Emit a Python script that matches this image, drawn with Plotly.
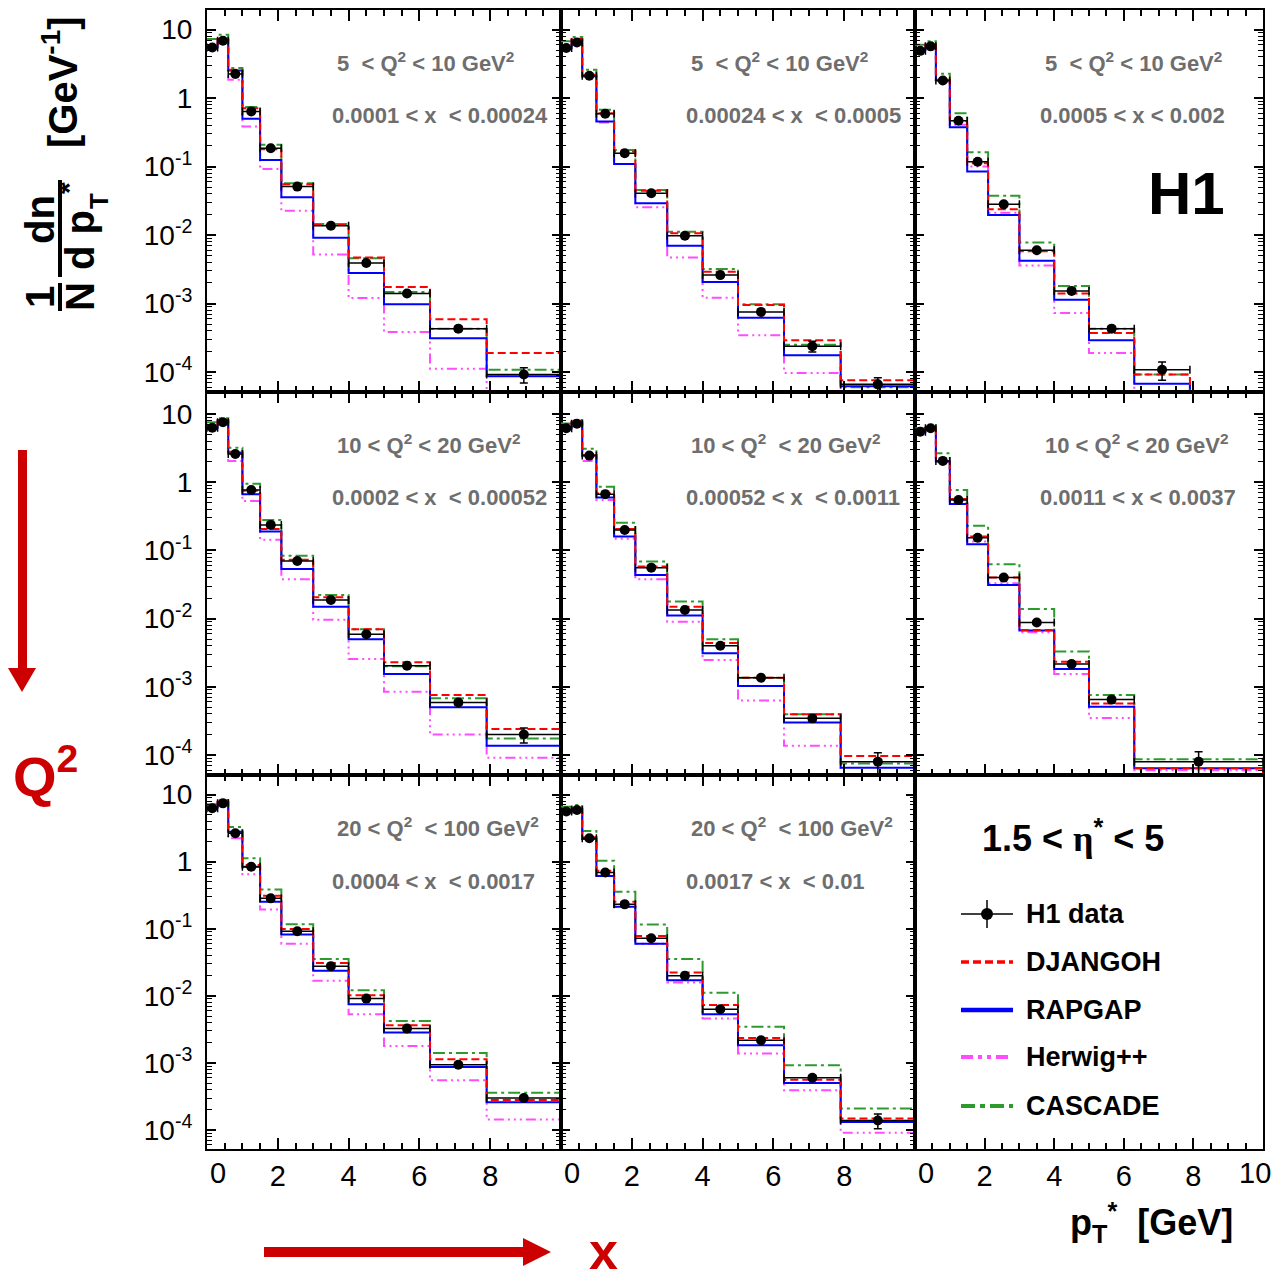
import plotly.graph_objects as go

W, H = 1284, 1283

# ---------------------------------------------------------------- binning
# p_T* bin edges [GeV]
edges_full = [0.0, 0.3, 0.6, 1.0, 1.5, 2.1, 3.0, 4.0, 5.0, 6.3, 7.9, 10.0]
edges_short = [0.0, 0.3, 0.6, 1.0, 1.5, 2.1, 3.0, 4.0, 5.0, 6.3, 7.9]
edges_merged = [0.0, 0.3, 0.6, 1.0, 1.5, 2.1, 3.0, 4.0, 5.0, 6.3, 10.0]

# ---------------------------------------------------------------- bin labels
q2_labels = [
    "5\u00a0\u00a0&lt; Q<sup>2</sup> &lt; 10 GeV<sup>2</sup>",
    "5\u00a0\u00a0&lt; Q<sup>2</sup> &lt; 10 GeV<sup>2</sup>",
    "5\u00a0\u00a0&lt; Q<sup>2</sup> &lt; 10 GeV<sup>2</sup>",
    "10 &lt; Q<sup>2</sup> &lt; 20 GeV<sup>2</sup>",
    "10 &lt; Q<sup>2</sup>\u00a0\u00a0&lt; 20 GeV<sup>2</sup>",
    "10 &lt; Q<sup>2</sup> &lt; 20 GeV<sup>2</sup>",
    "20 &lt; Q<sup>2</sup>\u00a0\u00a0&lt; 100 GeV<sup>2</sup>",
    "20 &lt; Q<sup>2</sup>\u00a0\u00a0&lt; 100 GeV<sup>2</sup>",
]
x_labels = [
    "0.0001 &lt; x\u00a0\u00a0&lt; 0.00024",
    "0.00024 &lt; x\u00a0\u00a0&lt; 0.0005",
    "0.0005 &lt; x &lt; 0.002",
    "0.0002 &lt; x\u00a0\u00a0&lt; 0.00052",
    "0.00052 &lt; x\u00a0\u00a0&lt; 0.0011",
    "0.0011 &lt; x &lt; 0.0037",
    "0.0004 &lt; x\u00a0\u00a0&lt; 0.0017",
    "0.0017 &lt; x\u00a0\u00a0&lt; 0.01",
]

# ---------------------------------------------------------------- 1/N dn/dpT* values
# bin 1: 5<Q2<10, 0.0001<x<0.00024
data_1 = [5.5, 6.9, 2.25, 0.64, 0.185, 0.051, 0.0137, 0.0039, 0.0014, 4.3e-4, 9.2e-5]
err_1 = [0.03, 0.03, 0.03, 0.03, 0.03, 0.04, 0.04, 0.05, 0.06, 0.08, 0.25]
djangoh_1 = [5.7, 7.3, 2.6, 0.71, 0.179, 0.055, 0.014, 0.0047, 0.00175, 5.9e-4, 1.9e-4]
rapgap_1 = [5.5, 7.1, 2.54, 0.50, 0.125, 0.0356, 0.0091, 0.0028, 9.8e-4, 3.1e-4, 8.7e-5]
herwig_1 = [5.4, 7.0, 1.85, 0.385, 0.092, 0.0227, 0.0052, 0.0012, 3.85e-4, 1.12e-4, 3e-5]
cascade_1 = [7.3, 8.45, 2.75, 0.74, 0.208, 0.057, 0.0145, 0.0046, 0.00148, 4.3e-4, 1.08e-4]

# bin 2: 5<Q2<10, 0.00024<x<0.0005
data_2 = [5.4, 6.5, 2.12, 0.59, 0.157, 0.0407, 0.0098, 0.0026, 7.55e-4, 2.38e-4, 6.6e-5]
err_2 = [0.03, 0.03, 0.03, 0.03, 0.03, 0.04, 0.04, 0.05, 0.07, 0.18, 0.25]
djangoh_2 = [5.5, 7.3, 2.19, 0.60, 0.166, 0.0445, 0.0106, 0.0029, 9.5e-4, 2.9e-4, 7.55e-5]
rapgap_2 = [5.4, 7.1, 2.12, 0.456, 0.109, 0.0291, 0.0070, 0.00207, 6.2e-4, 1.75e-4, 6.2e-5]
herwig_2 = [5.4, 7.0, 2.03, 0.44, 0.109, 0.0254, 0.0047, 0.00121, 3.44e-4, 9.7e-5, 3e-5]
cascade_2 = [6.75, 7.8, 2.6, 0.675, 0.175, 0.0456, 0.0112, 0.0032, 9.8e-4, 2.5e-4, 6.0e-5]

# bin 3: 5<Q2<10, 0.0005<x<0.002
data_3 = [4.9, 5.7, 1.81, 0.466, 0.118, 0.0281, 0.0060, 0.00153, 4.3e-4, 1.08e-4]
err_3 = [0.03, 0.03, 0.03, 0.03, 0.03, 0.04, 0.04, 0.05, 0.08, 0.3]
djangoh_3 = [5.1, 6.0, 1.85, 0.456, 0.112, 0.0238, 0.0058, 0.0014, 3.7e-4, 9.2e-5]
rapgap_3 = [5.1, 5.8, 1.81, 0.376, 0.0845, 0.0196, 0.0042, 0.00114, 2.9e-4, 6.75e-5]
herwig_3 = [5.1, 5.8, 1.75, 0.407, 0.100, 0.0212, 0.0036, 7.3e-4, 1.9e-4, 3e-5]
cascade_3 = [6.0, 6.75, 2.27, 0.60, 0.162, 0.0376, 0.0078, 0.00181, 4.3e-4, 9.2e-5]

# bin 4: 10<Q2<20, 0.0002<x<0.00052
data_4 = [6.3, 7.6, 2.6, 0.77, 0.237, 0.070, 0.0188, 0.0059, 0.00204, 5.9e-4, 2.0e-4]
err_4 = [0.03, 0.03, 0.03, 0.03, 0.03, 0.04, 0.04, 0.05, 0.06, 0.08, 0.25]
djangoh_4 = [6.6, 8.2, 2.8, 0.75, 0.207, 0.073, 0.0206, 0.0070, 0.0023, 7.6e-4, 2.4e-4]
rapgap_4 = [6.3, 7.9, 2.7, 0.67, 0.189, 0.0535, 0.0150, 0.0050, 0.00154, 5.0e-4, 1.37e-4]
herwig_4 = [6.2, 7.6, 2.06, 0.53, 0.143, 0.0378, 0.0096, 0.00256, 8.5e-4, 2.0e-4, 9.1e-5]
cascade_4 = [7.6, 8.7, 3.2, 0.95, 0.28, 0.084, 0.0222, 0.0070, 0.0020, 6.8e-4, 1.75e-4]

# bin 5: 10<Q2<20, 0.00052<x<0.0011
data_5 = [6.2, 7.2, 2.46, 0.67, 0.200, 0.056, 0.0134, 0.0040, 0.00136, 3.45e-4, 8.0e-5]
err_5 = [0.03, 0.03, 0.03, 0.03, 0.03, 0.04, 0.04, 0.05, 0.06, 0.1, 0.35]
djangoh_5 = [6.3, 7.8, 2.5, 0.69, 0.207, 0.058, 0.0150, 0.0044, 0.00136, 3.95e-4, 9.7e-5]
rapgap_5 = [6.2, 7.6, 2.46, 0.60, 0.160, 0.0437, 0.0111, 0.0031, 0.00103, 3.0e-4, 6.5e-5]
herwig_5 = [6.2, 7.3, 2.06, 0.55, 0.148, 0.0378, 0.0090, 0.00248, 6.3e-4, 1.37e-4, 3e-5]
cascade_5 = [7.3, 8.2, 3.1, 0.86, 0.256, 0.069, 0.0178, 0.0050, 0.00136, 3.95e-4, 7.5e-5]

# bin 6: 10<Q2<20, 0.0011<x<0.0037
data_6 = [5.5, 6.2, 2.06, 0.55, 0.154, 0.040, 0.0088, 0.00216, 6.5e-4, 8.0e-5]
err_6 = [0.03, 0.03, 0.03, 0.03, 0.03, 0.04, 0.05, 0.06, 0.07, 0.4]
djangoh_6 = [5.5, 6.3, 2.06, 0.57, 0.160, 0.040, 0.0068, 0.00234, 5.7e-4, 6.4e-5]
rapgap_6 = [5.5, 6.2, 2.01, 0.48, 0.123, 0.0312, 0.0067, 0.00183, 5.1e-4, 6.4e-5]
herwig_6 = [5.5, 6.2, 2.01, 0.51, 0.135, 0.0330, 0.0063, 0.00154, 3.5e-4, 6.0e-5]
cascade_6 = [6.2, 6.8, 2.66, 0.77, 0.231, 0.063, 0.0139, 0.0033, 7.6e-4, 8.7e-5]

# bin 7: 20<Q2<100, 0.0004<x<0.0017
data_7 = [6.25, 7.4, 2.65, 0.84, 0.284, 0.092, 0.0277, 0.0091, 0.00325, 9.4e-4, 3.0e-4]
err_7 = [0.03, 0.03, 0.03, 0.03, 0.03, 0.04, 0.04, 0.05, 0.05, 0.06, 0.08]
djangoh_7 = [6.5, 7.9, 2.8, 0.89, 0.311, 0.099, 0.031, 0.0102, 0.00365, 0.00113, 2.8e-4]
rapgap_7 = [6.4, 7.7, 2.8, 0.84, 0.253, 0.082, 0.0236, 0.0075, 0.00284, 8.7e-4, 2.6e-4]
herwig_7 = [6.25, 7.4, 2.23, 0.65, 0.194, 0.060, 0.0168, 0.0053, 0.00179, 5.5e-4, 1.43e-4]
cascade_7 = [7.2, 8.3, 3.3, 1.12, 0.386, 0.117, 0.0353, 0.0121, 0.0042, 0.00141, 3.6e-4]

# bin 8: 20<Q2<100, 0.0017<x<0.01
data_8 = [5.6, 5.9, 2.23, 0.69, 0.231, 0.072, 0.0199, 0.0063, 0.00218, 6.0e-4, 1.39e-4]
err_8 = [0.03, 0.03, 0.03, 0.03, 0.03, 0.04, 0.04, 0.05, 0.05, 0.07, 0.25]
djangoh_8 = [5.6, 6.25, 2.31, 0.73, 0.253, 0.078, 0.0223, 0.0073, 0.00236, 5.6e-4, 1.48e-4]
rapgap_8 = [5.6, 6.1, 2.18, 0.61, 0.213, 0.060, 0.0171, 0.0053, 0.00184, 5.0e-4, 1.32e-4]
herwig_8 = [5.6, 6.1, 2.18, 0.63, 0.213, 0.060, 0.0158, 0.0046, 0.00138, 3.9e-4, 9.1e-5]
cascade_8 = [6.6, 7.0, 2.87, 1.03, 0.356, 0.116, 0.0353, 0.0111, 0.00345, 9.2e-4, 2.1e-4]

panels = [
    (edges_full, data_1, err_1, djangoh_1, rapgap_1, herwig_1, cascade_1),
    (edges_full, data_2, err_2, djangoh_2, rapgap_2, herwig_2, cascade_2),
    (edges_short, data_3, err_3, djangoh_3, rapgap_3, herwig_3, cascade_3),
    (edges_full, data_4, err_4, djangoh_4, rapgap_4, herwig_4, cascade_4),
    (edges_full, data_5, err_5, djangoh_5, rapgap_5, herwig_5, cascade_5),
    (edges_merged, data_6, err_6, djangoh_6, rapgap_6, herwig_6, cascade_6),
    (edges_full, data_7, err_7, djangoh_7, rapgap_7, herwig_7, cascade_7),
    (edges_full, data_8, err_8, djangoh_8, rapgap_8, herwig_8, cascade_8),
]

# ---------------------------------------------------------------- styles
FONT = "Liberation Sans, Arial, Helvetica, sans-serif"
RED, BLUE, MAGENTA, GREEN = "#ff0000", "#0000ff", "#ff4cff", "#2e9a2e"
models = [  # (name, column in panel tuple, colour, dash, width)
    ("Herwig++", 5, MAGENTA, "10px,4px,2px,4px,2px,4px,2px,4px", 2),
    ("CASCADE", 6, GREEN, "12px,4px,3px,4px", 2),
    ("RAPGAP", 4, BLUE, "solid", 2),
    ("DJANGOH", 3, RED, "8px,4px", 2),
]
FLOOR = 1e-7  # histogram outline drops to zero after its last bin

# panel frames in page pixels
col_px = [(207, 561), (561, 915), (915, 1263)]
row_px = [(10, 392), (392, 775), (775, 1149)]
row_yrange = [[-4.292, 1.287], [-4.293, 1.324], [-4.283, 1.292]]


def px(xp):
    return xp / W


def py(yp):
    return 1 - yp / H


fig = go.Figure()
layout = dict(
    width=W, height=H, margin=dict(l=0, r=0, t=0, b=0),
    paper_bgcolor="white", plot_bgcolor="white", showlegend=False,
    font=dict(family=FONT, color="black"),
)
annotations, shapes = [], []

major_y = [1e-4, 1e-3, 1e-2, 1e-1, 1, 10]
major_y_text = ["10<sup>-4</sup>", "10<sup>-3</sup>", "10<sup>-2</sup>",
                "10<sup>-1</sup>", "1", "10"]
minor_y = [m * 10.0 ** e for e in range(-5, 2) for m in range(2, 10)]

for k in range(9):
    r, c = divmod(k, 3)
    sfx = "" if k == 0 else str(k + 1)
    x0, x1 = col_px[c]
    y0, y1 = row_px[r]
    bottom = r == 2
    xa = dict(
        domain=[px(x0), px(x1)], range=[0, 10], anchor="y" + sfx,
        showline=True, linecolor="black", linewidth=2,
        mirror="ticks" if k < 8 else True,
        ticks="inside", ticklen=11, tickwidth=1.5, tickcolor="black",
        tickmode="array", tickvals=[2, 4, 6, 8],
        showticklabels=bottom, showgrid=False, zeroline=False,
        tickfont=dict(size=29, family=FONT, color="black"),
        minor=dict(tickmode="linear", tick0=0, dtick=0.5, ticks="inside",
                   ticklen=6, tickwidth=1.5, tickcolor="black"),
    )
    ya = dict(
        domain=[py(y1), py(y0)], type="log", range=row_yrange[r],
        anchor="x" + sfx, showline=True, linecolor="black", linewidth=2,
        mirror="ticks" if k < 8 else True, showgrid=False, zeroline=False,
        tickmode="array", tickvals=major_y, ticktext=major_y_text,
        ticks="inside" if k < 8 else "", ticklen=9, tickwidth=1.5,
        tickcolor="black", showticklabels=(c == 0), ticklabelstandoff=7,
        tickfont=dict(size=28, family=FONT, color="black"),
        minor=dict(tickmode="array", tickvals=minor_y,
                   ticks="inside" if k < 8 else "", ticklen=5,
                   tickwidth=1.2, tickcolor="black"),
    )
    if k == 8:
        ya["showticklabels"] = False
    layout["xaxis" + sfx] = xa
    layout["yaxis" + sfx] = ya

    if bottom:
        # edge tick labels sit just inside the frame
        annotations.append(dict(
            xref="x" + sfx, yref="paper", x=0, y=py(1173), xshift=11,
            text="0", showarrow=False, xanchor="center", yanchor="middle",
            font=dict(size=29, family=FONT, color="black")))
        if c == 2:
            annotations.append(dict(
                xref="x" + sfx, yref="paper", x=10, y=py(1173), xshift=-8,
                text="10", showarrow=False, xanchor="center", yanchor="middle",
                font=dict(size=29, family=FONT, color="black")))

    if k == 8:
        continue

    edges, data, err, *_ = panels[k]
    for name, col, colour, dash, width in models:
        vals = panels[k][col]
        fig.add_trace(go.Scatter(
            x=list(edges), y=list(vals) + [FLOOR], mode="lines",
            line=dict(shape="hv", color=colour, dash=dash, width=width),
            name=name, xaxis="x" + sfx, yaxis="y" + sfx, hoverinfo="skip"))

    centres = [(edges[i] + edges[i + 1]) / 2 for i in range(len(data))]
    halfw = [(edges[i + 1] - edges[i]) / 2 for i in range(len(data))]
    fig.add_trace(go.Scatter(
        x=centres, y=data, mode="markers", name="H1 data",
        marker=dict(symbol="circle", size=10, color="black"),
        error_x=dict(type="data", array=halfw, color="black",
                     thickness=1.5, width=4),
        error_y=dict(type="data", array=[e * v for e, v in zip(err, data)],
                     color="black", thickness=1.5, width=4),
        xaxis="x" + sfx, yaxis="y" + sfx))

    # kinematic bin labels
    annotations.append(dict(
        xref="paper", yref="paper", x=px(x0 + 128), y=py(y0 + 52),
        text=q2_labels[k], showarrow=False, xanchor="left", yanchor="middle",
        font=dict(size=22, family=FONT, color="#6e6e6e", weight="bold")))
    annotations.append(dict(
        xref="paper", yref="paper", x=px(x0 + 123), y=py(y0 + 106),
        text=x_labels[k], showarrow=False, xanchor="left", yanchor="middle",
        font=dict(size=22, family=FONT, color="#6e6e6e", weight="bold")))

# ---------------------------------------------------------------- H1 tag
annotations.append(dict(
    xref="paper", yref="paper", x=px(1186), y=py(193), text="H1",
    showarrow=False, xanchor="center", yanchor="middle",
    font=dict(size=60, family=FONT, color="black", weight="bold")))

# ---------------------------------------------------------------- legend panel
annotations.append(dict(
    xref="paper", yref="paper", x=px(1073), y=py(836),
    text='1.5 &lt; <span style="font-family:Liberation Serif">\u03b7</span>'
         '<sup>*</sup> &lt; 5',
    showarrow=False, xanchor="center", yanchor="middle",
    font=dict(size=36, family=FONT, color="black", weight="bold")))

leg_rows = [914, 962, 1010, 1057, 1106]
leg_names = ["H1 data", "DJANGOH", "RAPGAP", "Herwig++", "CASCADE"]
leg_styles = [None, (RED, "8px,4px", 3.5), (BLUE, "solid", 4.5),
              (MAGENTA, "12px,5px,4px,5px,4px,5px", 4),
              (GREEN, "14px,5px,5px,5px", 4)]
for yy, name, st in zip(leg_rows, leg_names, leg_styles):
    if st is None:
        shapes.append(dict(type="line", xref="paper", yref="paper",
                           x0=px(961), x1=px(1013), y0=py(yy), y1=py(yy),
                           line=dict(color="black", width=1.5)))
        shapes.append(dict(type="line", xref="paper", yref="paper",
                           x0=px(987), x1=px(987), y0=py(yy - 14),
                           y1=py(yy + 14), line=dict(color="black", width=1.5)))
        shapes.append(dict(type="circle", xref="paper", yref="paper",
                           x0=px(981), x1=px(993), y0=py(yy - 6),
                           y1=py(yy + 6), fillcolor="black",
                           line=dict(color="black", width=0)))
    else:
        colour, dash, width = st
        shapes.append(dict(type="line", xref="paper", yref="paper",
                           x0=px(961), x1=px(1013), y0=py(yy), y1=py(yy),
                           line=dict(color=colour, dash=dash, width=width)))
    annotations.append(dict(
        xref="paper", yref="paper", x=px(1024), y=py(yy), text=name,
        showarrow=False, xanchor="left", yanchor="middle",
        font=dict(size=27, family=FONT, color="black", weight="bold")))

# ---------------------------------------------------------------- axis titles
annotations.append(dict(
    xref="paper", yref="paper", x=px(1151), y=py(1222),
    text="p<sub>T</sub><sup>*</sup>\u00a0\u00a0[GeV]", showarrow=False,
    xanchor="center", yanchor="middle",
    font=dict(size=36, family=FONT, color="black", weight="bold")))

ytitle_font = dict(size=40, family=FONT, color="black", weight="bold")
for txt, xx, yy in [("1", 40, 297), ("N", 80, 297), ("dn", 40, 220),
                    ("d p", 80, 240), ("[GeV<sup>-1</sup>]", 60, 82)]:
    annotations.append(dict(
        xref="paper", yref="paper", x=px(xx), y=py(yy), text=txt,
        textangle=-90, showarrow=False, xanchor="center", yanchor="middle",
        font=ytitle_font))
annotations.append(dict(
    xref="paper", yref="paper", x=px(99), y=py(201), text="T", textangle=-90,
    showarrow=False, xanchor="center", yanchor="middle",
    font=dict(size=26, family=FONT, color="black", weight="bold")))
annotations.append(dict(
    xref="paper", yref="paper", x=px(68), y=py(188), text="*", textangle=-90,
    showarrow=False, xanchor="center", yanchor="middle",
    font=dict(size=30, family=FONT, color="black", weight="bold")))
shapes.append(dict(type="line", xref="paper", yref="paper", x0=px(60),
                   x1=px(60), y0=py(283), y1=py(311),
                   line=dict(color="black", width=4)))
shapes.append(dict(type="line", xref="paper", yref="paper", x0=px(60),
                   x1=px(60), y0=py(180), y1=py(277),
                   line=dict(color="black", width=4)))

# ---------------------------------------------------------------- red guide arrows
DARKRED = "#cc0000"
shapes.append(dict(type="rect", xref="paper", yref="paper", x0=px(18),
                   x1=px(27), y0=py(450), y1=py(669), fillcolor=DARKRED,
                   line=dict(width=0)))
shapes.append(dict(type="path", xref="paper", yref="paper",
                   path=f"M {px(8)},{py(668)} L {px(36)},{py(668)} "
                        f"L {px(22)},{py(692)} Z",
                   fillcolor=DARKRED, line=dict(width=0)))
shapes.append(dict(type="rect", xref="paper", yref="paper", x0=px(264),
                   x1=px(525), y0=py(1257), y1=py(1247), fillcolor=DARKRED,
                   line=dict(width=0)))
shapes.append(dict(type="path", xref="paper", yref="paper",
                   path=f"M {px(523)},{py(1238)} L {px(523)},{py(1266)} "
                        f"L {px(551)},{py(1252)} Z",
                   fillcolor=DARKRED, line=dict(width=0)))
annotations.append(dict(
    xref="paper", yref="paper", x=px(46), y=py(772), text="Q<sup>2</sup>",
    showarrow=False, xanchor="center", yanchor="middle",
    font=dict(size=56, family=FONT, color=DARKRED, weight="bold")))
annotations.append(dict(
    xref="paper", yref="paper", x=px(603), y=py(1282), text="x",
    showarrow=False, xanchor="center", yanchor="bottom",
    font=dict(size=52, family=FONT, color=DARKRED, weight="bold")))

layout["annotations"] = annotations
layout["shapes"] = shapes
fig.update_layout(**layout)
fig.write_html("out.html")
